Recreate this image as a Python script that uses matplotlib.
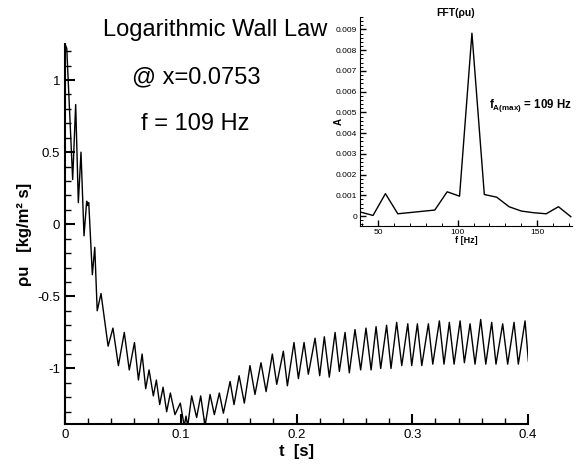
import matplotlib
matplotlib.use("Agg")
import matplotlib.pyplot as plt
from matplotlib.ticker import MultipleLocator, FuncFormatter

plt.rcParams['font.family'] = ['Liberation Sans', 'DejaVu Sans']
plt.rcParams['axes.unicode_minus'] = False
plt.rcParams['mathtext.fontset'] = 'custom'
plt.rcParams['mathtext.rm'] = 'Liberation Sans'
plt.rcParams['mathtext.bf'] = 'Liberation Sans:bold'

# rho*u probe signal (turning points of the trace)
t = [0.0, 0.0015, 0.0066, 0.0092, 0.0115, 0.0138, 0.0164, 0.0187, 0.0196, 0.0205,
     0.0236, 0.0257, 0.0278, 0.0311, 0.0372, 0.0414, 0.0461, 0.0512, 0.0555, 0.0600,
     0.0634, 0.0666, 0.0697, 0.0726, 0.0763, 0.0789, 0.0818, 0.0847, 0.0878, 0.0910,
     0.0950, 0.0996, 0.1030, 0.1045, 0.1060, 0.1094, 0.1137, 0.1172, 0.1210, 0.1253,
     0.1290, 0.1333, 0.1368, 0.1426, 0.1460, 0.1504, 0.1549, 0.1598, 0.1641, 0.1693,
     0.1737, 0.1791, 0.1829, 0.1886, 0.1921, 0.1978, 0.2016, 0.2065, 0.2102, 0.2160,
     0.2200, 0.2240, 0.2283, 0.2333, 0.2370, 0.2419, 0.2456, 0.2505, 0.2554, 0.2600,
     0.2644, 0.2687, 0.2727, 0.2778, 0.2816, 0.2865, 0.2909, 0.2961, 0.2995, 0.3044,
     0.3082, 0.3139, 0.3177, 0.3234, 0.3274, 0.3320, 0.3361, 0.3413, 0.3450, 0.3499,
     0.3542, 0.3591, 0.3635, 0.3686, 0.3723, 0.3781, 0.3824, 0.3879, 0.3916, 0.3974,
     0.4003]
rho_u = [1.25, 1.22, 0.31, 0.83, 0.15, 0.50, -0.08, 0.16, 0.13, 0.15,
         -0.35, -0.16, -0.60, -0.48, -0.845, -0.72, -0.98, -0.75, -1.01, -0.82,
         -1.08, -0.90, -1.14, -1.01, -1.19, -1.08, -1.25, -1.13, -1.30, -1.17,
         -1.32, -1.24, -1.40, -1.33, -1.40, -1.19, -1.34, -1.19, -1.40, -1.18,
         -1.32, -1.17, -1.31, -1.09, -1.25, -1.05, -1.24, -0.98, -1.18, -0.96,
         -1.16, -0.90, -1.11, -0.88, -1.12, -0.82, -1.07, -0.82, -1.04, -0.79,
         -1.05, -0.78, -1.06, -0.75, -1.02, -0.75, -1.03, -0.73, -1.01, -0.72,
         -1.01, -0.71, -1.00, -0.70, -1.00, -0.68, -0.98, -0.69, -0.98, -0.69,
         -0.98, -0.69, -0.97, -0.67, -0.97, -0.68, -0.97, -0.67, -0.96, -0.69,
         -0.97, -0.66, -0.97, -0.68, -0.97, -0.69, -0.97, -0.68, -0.97, -0.67,
         -0.95]

# FFT spectrum of the signal
freq = [38.9, 46.7, 54.5, 62.3, 70.1, 77.9, 85.6, 93.4, 101.2, 109.0,
        116.8, 124.6, 132.4, 140.2, 148.0, 155.8, 163.5, 171.3]
amp = [0.00019, 0.00003, 0.00108, 0.00011, 0.00017, 0.00023, 0.00029, 0.00117, 0.00096, 0.00882,
       0.00104, 0.00091, 0.00045, 0.00024, 0.00016, 0.00011, 0.00045, -0.00003]

fig = plt.figure(figsize=(5.79, 4.66), dpi=100)

# main time history
ax = fig.add_axes([0.1123, 0.0901, 0.7997, 0.8155])
ax.plot(t, rho_u, color='black', lw=1.0, solid_joinstyle='round')
ax.set_xlim(0, 0.4)
ax.set_ylim(-1.385, 1.25)
for side in ['top', 'right']:
    ax.spines[side].set_visible(False)
for side in ['left', 'bottom']:
    ax.spines[side].set_linewidth(1.5)
ax.xaxis.set_major_locator(MultipleLocator(0.1))
ax.xaxis.set_minor_locator(MultipleLocator(0.02))
ax.yaxis.set_major_locator(MultipleLocator(0.5))
ax.yaxis.set_minor_locator(MultipleLocator(0.1))
fmt = FuncFormatter(lambda v, p: '%g' % round(v, 6))
ax.xaxis.set_major_formatter(fmt)
ax.yaxis.set_major_formatter(fmt)
ax.tick_params(which='major', direction='in', length=7, width=1.5, labelsize=9.5)
ax.tick_params(which='minor', direction='in', length=4, width=1)
ax.set_xlabel('t  [s]', fontsize=12, fontweight='bold', labelpad=2)
ax.set_ylabel('ρu   [kg/m² s]', fontsize=12, fontweight='bold', labelpad=4)

fig.text(0.371, 0.9356, 'Logarithmic Wall Law', fontsize=17, ha='center', va='center')
fig.text(0.3385, 0.8348, '@ x=0.0753', fontsize=17, ha='center', va='center')
fig.text(0.3368, 0.7339, 'f = 109 Hz', fontsize=17, ha='center', va='center')

# FFT inset
ins = fig.add_axes([0.6218, 0.515, 0.366, 0.4485])
ins.plot(freq, amp, color='black', lw=1.0)
ins.set_xlim(38.5, 172)
ins.set_ylim(-0.00048, 0.0096)
for side in ['top', 'right']:
    ins.spines[side].set_visible(False)
ins.xaxis.set_major_locator(MultipleLocator(50))
ins.xaxis.set_minor_locator(MultipleLocator(10))
ins.yaxis.set_major_locator(MultipleLocator(0.001))
ins.yaxis.set_minor_locator(MultipleLocator(0.0002))
ins.yaxis.set_major_formatter(fmt)
ins.tick_params(which='major', direction='in', length=4, width=1, labelsize=6, pad=2)
ins.tick_params(which='minor', direction='in', length=2, width=0.7)
ins.set_xlabel('f [Hz]', fontsize=6.5, fontweight='bold', labelpad=0)
ins.set_ylabel('A', fontsize=7, fontweight='bold')
ins.yaxis.set_label_coords(-0.075, 0.5)
fig.text(0.7876, 0.972, 'FFT(ρu)', fontsize=7.5, fontweight='bold', ha='center', va='center')
ins.text(120, 0.00532, r'f$_{\mathbf{A(max)}}$ = 109 Hz', fontsize=8.3,
         fontweight='bold', ha='left', va='center')

fig.savefig('out.png', dpi=100)
